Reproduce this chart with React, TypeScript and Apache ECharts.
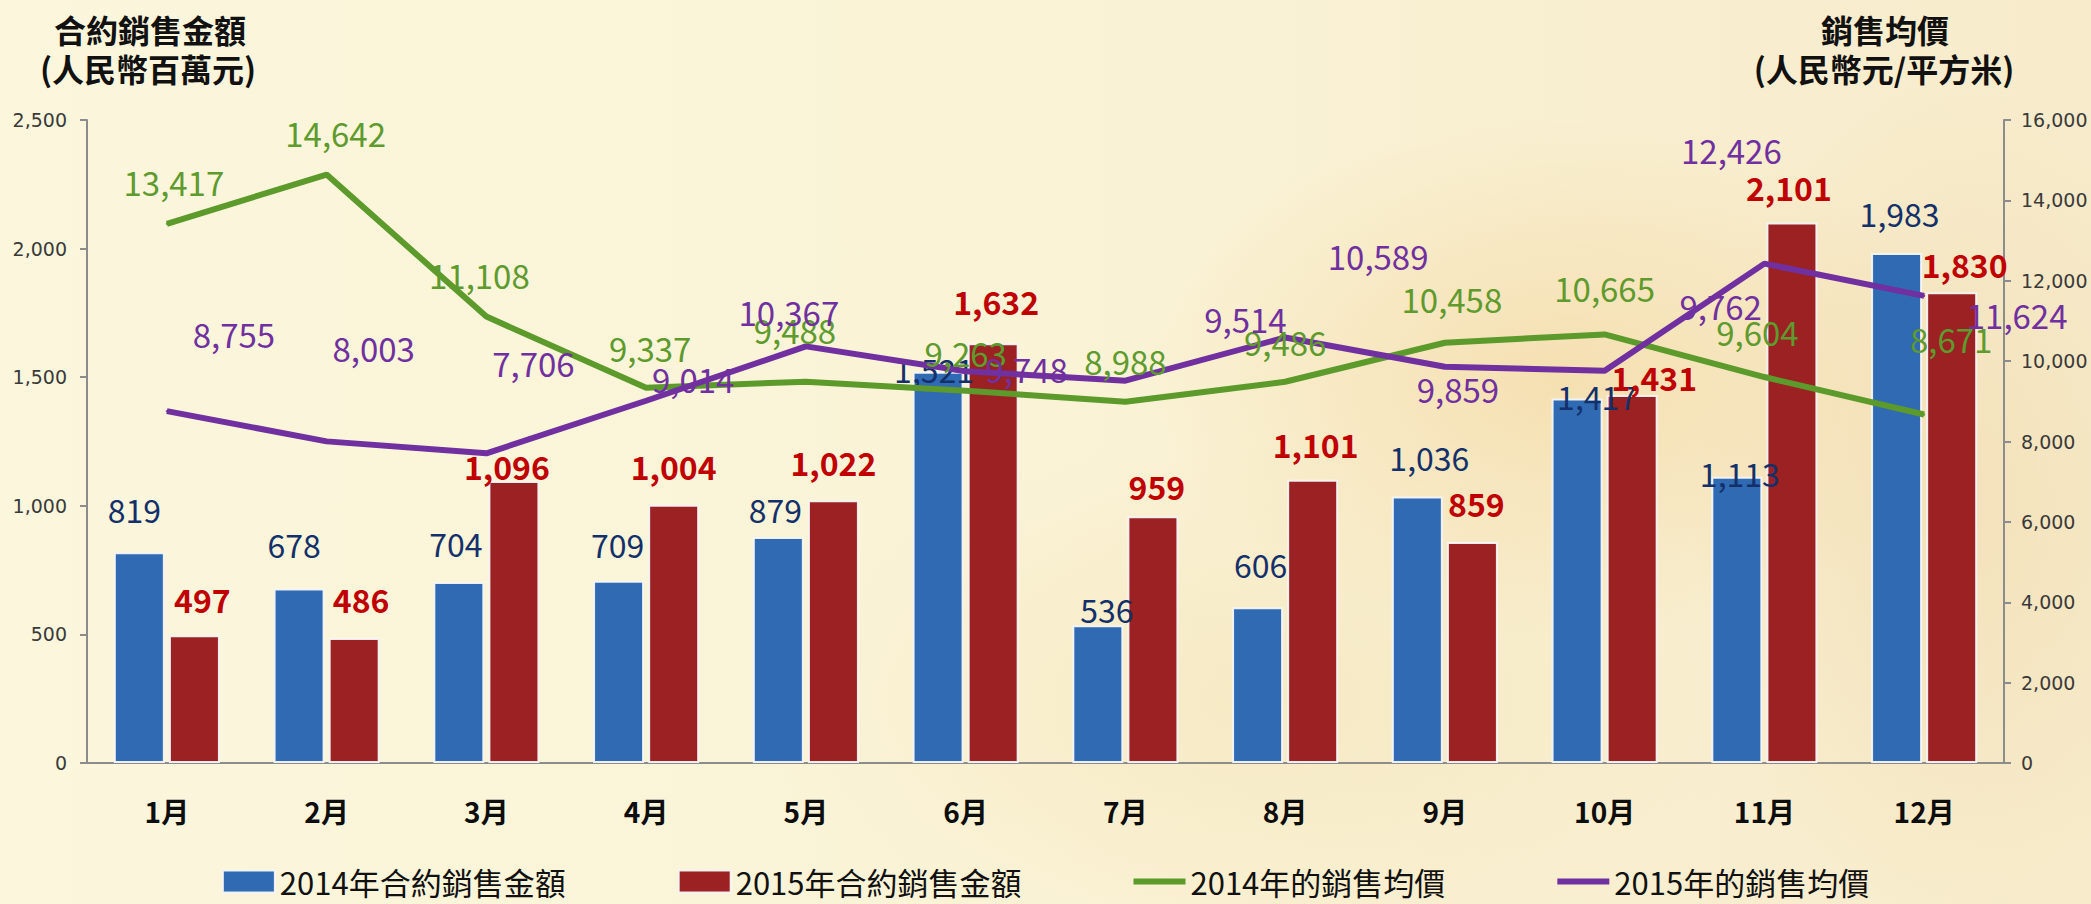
import React, { useEffect, useRef } from "react";
import * as echarts from "echarts";

const months = ["1月", "2月", "3月", "4月", "5月", "6月", "7月", "8月", "9月", "10月", "11月", "12月"];
const sales2014 = [819, 678, 704, 709, 879, 1521, 536, 606, 1036, 1417, 1113, 1983];
const sales2015 = [497, 486, 1096, 1004, 1022, 1632, 959, 1101, 859, 1431, 2101, 1830];
const price2014 = [13417, 14642, 11108, 9337, 9488, 9263, 8988, 9486, 10458, 10665, 9604, 8671];
const price2015 = [8755, 8003, 7706, 9014, 10367, 9748, 9514, 10589, 9859, 9762, 12426, 11624];

const leftTicks = { min: 0, max: 2500, interval: 500 };
const rightTicks = { min: 0, max: 16000, interval: 2000 };

// label offsets (px) relative to each mark, mimicking the hand-placed labels
const offs2014Bar = [[-5, -43], [-5, -45], [-3, -39], [-1, -37], [-3, -28], [-4, -3], [9, -16], [3, -43], [12, -40], [20, -3], [3, -4], [3, -40]];
const offs2015Bar = [[8, -36], [7, -39], [-7, -15], [0, -39], [0, -38], [3, -42], [4, -30], [3, -36], [4, -39], [22, -18], [-3, -36], [13, -28]];
const offs2014Line = [[7, -41], [9, -41], [-7, -41], [4, -39], [-11, -51], [0, -37], [0, -40], [0, -39], [7, -43], [0, -45], [-7, -44], [27, -75]];
const offs2015Line = [[67, -76], [47, -92], [47, -89], [47, -21], [-17, -33], [61, -1], [120, -61], [93, -80], [13, 23], [116, -64], [-33, -113], [93, 20]];

const fmt = (v: number) => v.toLocaleString("en-US");
const CJK = "'Noto Sans CJK TC', 'Noto Sans CJK SC', sans-serif";
const LINE_ICON = "path://M0,0H52V6H0Z";

export default function App() {
  const ref = useRef<HTMLDivElement>(null);
  useEffect(() => {
    if (!ref.current) return;
    const chart = echarts.init(ref.current, null, { renderer: "svg" });

    const mk = (vals: number[], offs: number[][]) =>
      vals.map((v, i) => ({ value: v, label: { offset: offs[i] } }));

    const baseLabel = {
      show: true,
      position: "top",
      distance: 0,
      align: "center",
      verticalAlign: "middle",
      fontFamily: CJK,
      fontSize: 32,
      formatter: (p: any) => fmt(p.value),
    };

    const axisLabelStyle = {
      fontFamily: "'DejaVu Sans', Verdana, sans-serif",
      fontSize: 19,
      color: "#3a3a3a",
      formatter: (v: number) => fmt(v),
    };

    const titleFont = `bold 32px ${CJK}`;

    const option: any = {
      animation: false,
      backgroundColor: new echarts.graphic.LinearGradient(0, 0, 1, 0, [
        { offset: 0, color: "#FBF6DC" },
        { offset: 0.5, color: "#FAF3D6" },
        { offset: 1, color: "#F7EBCB" },
      ]),
      graphic: [
        {
          type: "ellipse",
          z: -10,
          shape: { cx: 1560, cy: 380, rx: 420, ry: 260 },
          style: {
            fill: new echarts.graphic.RadialGradient(0.5, 0.5, 0.5, [
              { offset: 0, color: "rgba(240,200,130,0.4)" },
              { offset: 1, color: "rgba(240,200,130,0)" },
            ]),
          },
        },
        {
          type: "ellipse",
          z: -10,
          shape: { cx: 1950, cy: 500, rx: 260, ry: 420 },
          style: {
            fill: new echarts.graphic.RadialGradient(0.5, 0.5, 0.5, [
              { offset: 0, color: "rgba(235,205,150,0.35)" },
              { offset: 1, color: "rgba(235,205,150,0)" },
            ]),
          },
        },
        {
          type: "ellipse",
          z: -10,
          shape: { cx: 1250, cy: 700, rx: 500, ry: 260 },
          style: {
            fill: new echarts.graphic.RadialGradient(0.5, 0.5, 0.5, [
              { offset: 0, color: "rgba(240,215,160,0.3)" },
              { offset: 1, color: "rgba(240,215,160,0)" },
            ]),
          },
        },
        {
          type: "text",
          style: { text: "合約銷售金額", x: 150, y: 29, align: "center", verticalAlign: "middle", font: titleFont, fill: "#111" },
        },
        {
          type: "text",
          style: { text: "(人民幣百萬元)", x: 148, y: 68, align: "center", verticalAlign: "middle", font: titleFont, fill: "#111" },
        },
        {
          type: "text",
          style: { text: "銷售均價", x: 1885, y: 29, align: "center", verticalAlign: "middle", font: titleFont, fill: "#111" },
        },
        {
          type: "text",
          style: { text: "(人民幣元/平方米)", x: 1884, y: 68, align: "center", verticalAlign: "middle", font: titleFont, fill: "#111" },
        },
      ],
      grid: { left: 87, right: 87, top: 120, bottom: 141, containLabel: false },
      legend: {
        bottom: 2,
        left: "center",
        itemGap: 112,
        itemWidth: 52,
        itemHeight: 22,
        textStyle: { fontFamily: CJK, fontSize: 31, color: "#111" },
        data: [
          { name: "2014年合約銷售金額", icon: "rect" },
          { name: "2015年合約銷售金額", icon: "rect" },
          { name: "2014年的銷售均價", icon: LINE_ICON },
          { name: "2015年的銷售均價", icon: LINE_ICON },
        ],
      },
      xAxis: {
        type: "category",
        data: months,
        axisLine: { lineStyle: { color: "#8c8c8c", width: 2 } },
        axisTick: { show: false },
        axisLabel: { fontFamily: CJK, fontSize: 28, fontWeight: "bold", color: "#0d0d0d", margin: 34 },
      },
      yAxis: [
        {
          type: "value",
          ...leftTicks,
          axisLine: { show: true, lineStyle: { color: "#8c8c8c", width: 2 } },
          axisTick: { show: true, length: 7, lineStyle: { color: "#8c8c8c", width: 2 } },
          splitLine: { show: false },
          axisLabel: { ...axisLabelStyle, margin: 20 },
        },
        {
          type: "value",
          position: "right",
          ...rightTicks,
          axisLine: { show: true, lineStyle: { color: "#8c8c8c", width: 2 } },
          axisTick: { show: true, length: 7, lineStyle: { color: "#8c8c8c", width: 2 } },
          splitLine: { show: false },
          axisLabel: { ...axisLabelStyle, margin: 17 },
        },
      ],
      series: [
        {
          name: "2014年合約銷售金額",
          type: "bar",
          yAxisIndex: 0,
          barWidth: 51,
          barGap: "8%",
          data: mk(sales2014, offs2014Bar),
          itemStyle: { color: "#2F6AB3", borderColor: "rgba(245,245,245,0.95)", borderWidth: 2 },
          label: { ...baseLabel, color: "#14306A" },
          z: 2,
        },
        {
          name: "2015年合約銷售金額",
          type: "bar",
          yAxisIndex: 0,
          barWidth: 51,
          data: mk(sales2015, offs2015Bar),
          itemStyle: { color: "#9C2122", borderColor: "rgba(245,245,245,0.95)", borderWidth: 2 },
          label: { ...baseLabel, color: "#C00000", fontWeight: "bold" },
          z: 2,
        },
        {
          name: "2014年的銷售均價",
          type: "line",
          yAxisIndex: 1,
          symbol: "circle",
          symbolSize: 2,
          showSymbol: true,
          data: mk(price2014, offs2014Line),
          lineStyle: { color: "#5B9A2B", width: 6 },
          itemStyle: { color: "#5B9A2B" },
          label: { ...baseLabel, fontSize: 33, color: "#5E9A2E" },
          z: 3,
        },
        {
          name: "2015年的銷售均價",
          type: "line",
          yAxisIndex: 1,
          symbol: "circle",
          symbolSize: 2,
          showSymbol: true,
          data: mk(price2015, offs2015Line),
          lineStyle: { color: "#7030A0", width: 6 },
          itemStyle: { color: "#7030A0" },
          label: { ...baseLabel, fontSize: 33, color: "#7030A0" },
          z: 3,
        },
      ],
    };
    chart.setOption(option);
    return () => chart.dispose();
  }, []);

  return (
    <div
      ref={ref}
      style={{ position: "fixed", left: 0, top: 0, width: "2091px", height: "904px" }}
    />
  );
}
